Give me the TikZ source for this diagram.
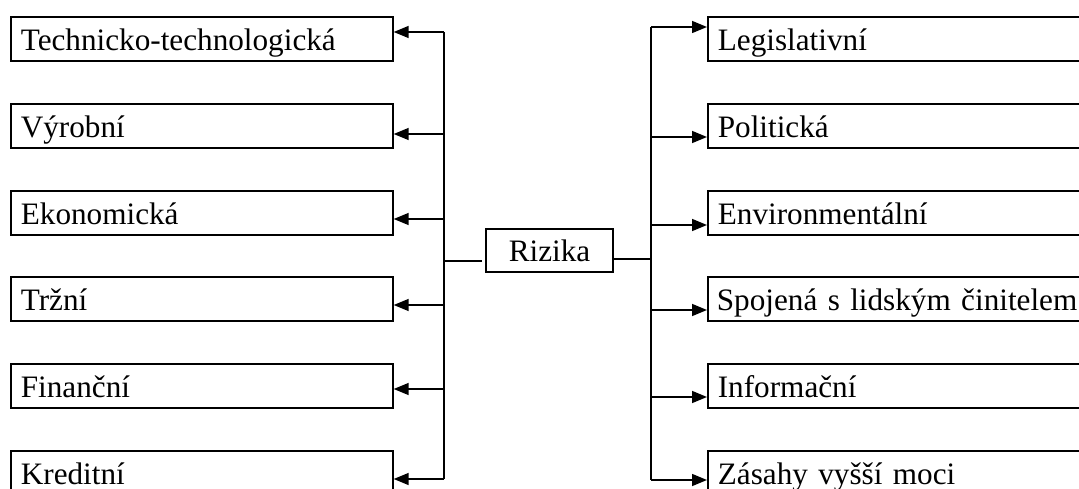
\documentclass[tikz,border=0pt]{standalone}
\usepackage{fontspec}
\setmainfont{Liberation Serif}
\usetikzlibrary{arrows.meta}
\begin{document}
\begin{tikzpicture}[x=1pt,y=-1pt,
  box/.style={draw, line width=1.7pt, inner xsep=10pt, inner ysep=0pt,
    text height=34pt, text depth=10pt, align=left,
    font=\fontsize{31.2}{38}\selectfont, anchor=north west},
  lbox/.style={box, text width=362pt},
  rbox/.style={box, text width=420pt},
  con/.style={line width=1.5pt},
  arr/.style={con, -{Triangle[length=15pt,width=12pt]}}]
\useasboundingbox (0,0) rectangle (1079,489);
\clip (0,0) rectangle (1079,489);
% left boxes
\node[lbox] (L1) at (10,16)  {Technicko-technologická};
\node[lbox] (L2) at (10,103) {Výrobní};
\node[lbox] (L3) at (10,190) {Ekonomická};
\node[lbox] (L4) at (10,276) {Tržní};
\node[lbox] (L5) at (10,363) {Finanční};
\node[lbox] (L6) at (10,450) {Kreditní};
% right boxes
\node[rbox] (R1) at (707,16)  {Legislativní};
\node[rbox] (R2) at (707,103) {Politická};
\node[rbox] (R3) at (707,190) {Environmentální};
\node[rbox, inner xsep=9pt] (R4) at (707,276) {Spojená s lidským činitelem};
\node[rbox] (R5) at (707,363) {Informační};
\node[rbox] (R6) at (707,450) {Zásahy vyšší moci};
% centre
\node[draw, line width=1.7pt, minimum width=127pt, minimum height=43pt, inner sep=0pt,
  text height=22pt, text depth=0pt, yshift=2pt,
  font=\fontsize{31.2}{38}\selectfont] (riz) at (549.5,252.5) {Rizika};
% left bus
\coordinate (lb1) at (444,32);
\coordinate (lb2) at (444,134);
\coordinate (lb3) at (444,219);
\coordinate (lb4) at (444,305);
\coordinate (lb5) at (444,389);
\coordinate (lb6) at (444,479);
\coordinate (lm) at (444,261);
\coordinate (lme) at (482,261);
\draw[con] (lb1) -- (lb6);
\draw[con] (lm) -- (lme);
\foreach \i in {1,...,6} \draw[arr] (lb\i) -- (lb\i -| L\i.east);
% right bus
\coordinate (rb1) at (651,27);
\coordinate (rb2) at (651,137);
\coordinate (rb3) at (651,225);
\coordinate (rb4) at (651,310);
\coordinate (rb5) at (651,397);
\coordinate (rb6) at (651,480);
\coordinate (rm) at (651,259);
\draw[con] (rb1) -- (rb6);
\draw[con] (rm -| riz.east) -- (rm);
\foreach \i in {1,...,6} \draw[arr] (rb\i) -- (rb\i -| R\i.west);
\end{tikzpicture}
\end{document}
